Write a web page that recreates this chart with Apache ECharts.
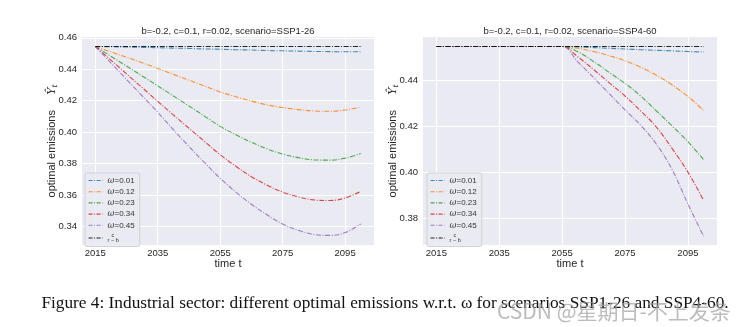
<!DOCTYPE html>
<html>
<head>
<meta charset="utf-8">
<script src="https://cdn.jsdelivr.net/npm/echarts@6/dist/echarts.min.js"></script>
<style>html,body{margin:0;padding:0;background:#fff;}#c{width:738px;height:327px;}</style>
</head>
<body>
<div id="c"></div>
<script>
// ---- data ----
const years = [2015,2020,2025,2030,2035,2040,2045,2050,2055,2060,2065,2070,2075,2080,2085,2090,2095,2100];
const seriesNames = ['ω=0.01','ω=0.12','ω=0.23','ω=0.34','ω=0.45','c/(r−b)'];
// SSP1-26 (left panel)
const w001_ssp126 = [.4545,.4543,.4541,.4539,.4537,.4534,.4532,.4529,.4527,.4524,.4522,.4519,.4517,.4515,.4513,.4512,.4511,.4511];
const w012_ssp126 = [.4545,.4510,.4476,.4441,.4405,.4367,.4330,.4293,.4255,.4225,.4197,.4173,.4156,.4143,.4134,.4132,.4140,.4158];
const w023_ssp126 = [.4545,.4482,.4420,.4357,.4294,.4230,.4166,.4101,.4036,.3983,.3935,.3893,.3860,.3837,.3823,.3821,.3834,.3863];
const w034_ssp126 = [.4545,.4458,.4370,.4283,.4195,.4109,.4024,.3940,.3856,.3782,.3716,.3662,.3618,.3587,.3568,.3564,.3580,.3623];
const w045_ssp126 = [.4545,.4440,.4335,.4231,.4126,.4015,.3908,.3805,.3706,.3618,.3540,.3473,.3414,.3374,.3348,.3342,.3360,.3415];
const bound_ssp126 = [.4545,.4545,.4545,.4545,.4545,.4545,.4545,.4545,.4545,.4545,.4545,.4545,.4545,.4545,.4545,.4545,.4545,.4545];
// SSP4-60 (right panel)
const w001_ssp460 = [.4545,.4545,.4545,.4545,.4545,.4545,.4545,.4545,.4545,.4543,.4540,.4537,.4534,.4531,.4528,.4526,.4523,.4521];
const w012_ssp460 = [.4545,.4545,.4545,.4545,.4545,.4545,.4545,.4545,.4545,.4537,.4523,.4505,.4483,.4455,.4420,.4378,.4328,.4267];
const w023_ssp460 = [.4545,.4545,.4545,.4545,.4545,.4545,.4545,.4545,.4545,.4522,.4480,.4432,.4385,.4330,.4265,.4200,.4132,.4054];
const w034_ssp460 = [.4545,.4545,.4545,.4545,.4545,.4545,.4545,.4545,.4545,.4500,.4445,.4387,.4330,.4265,.4195,.4102,.4000,.3877];
const w045_ssp460 = [.4545,.4545,.4545,.4545,.4545,.4545,.4545,.4545,.4545,.4478,.4410,.4340,.4270,.4203,.4121,.4010,.3862,.3722];
const bound_ssp460 = [.4545,.4545,.4545,.4545,.4545,.4545,.4545,.4545,.4545,.4545,.4545,.4545,.4545,.4545,.4545,.4545,.4545,.4545];
const xTicks = [2015,2035,2055,2075,2095];
const yTicksLeft = [0.34,0.36,0.38,0.40,0.42,0.44,0.46];
const yTicksRight = [0.38,0.40,0.42,0.44];
const titleLeft = 'b=-0.2, c=0.1, r=0.02, scenario=SSP1-26';
const titleRight = 'b=-0.2, c=0.1, r=0.02, scenario=SSP4-60';
const caption = 'Figure 4: Industrial sector: different optimal emissions w.r.t. ω for scenarios SSP1-26 and SSP4-60.';
const watermark = 'CSDN @星期日-不上发条';

// ---- styling ----
const colors = ['#1f77b4','#ff7f0e','#2ca02c','#d62728','#9467bd','#000000'];
const font = 'Liberation Sans, Arial, sans-serif';
const leftSets = [w001_ssp126,w012_ssp126,w023_ssp126,w034_ssp126,w045_ssp126,bound_ssp126];
const rightSets = [w001_ssp460,w012_ssp460,w023_ssp460,w034_ssp460,w045_ssp460,bound_ssp460];
const dash = [5, 1.6, 1, 1.6];

function mkSeries(sets, idx) {
  return sets.map((vals, i) => ({
    name: seriesNames[i], type: 'line', xAxisIndex: idx, yAxisIndex: idx,
    data: years.map((y, k) => [y, vals[k]]),
    symbol: 'none', showSymbol: false, smooth: 0.4, silent: true,
    lineStyle: {color: colors[i], width: 1.1, type: dash, opacity: 0.85},
    itemStyle: {color: colors[i]}, z: 2 + i
  }));
}
function mkX(idx) {
  return {
    gridIndex: idx, type: 'value', min: 2010.75, max: 2104.25,
    axisLine: {show: false}, axisTick: {show: false, customValues: xTicks},
    axisLabel: {customValues: xTicks, color: '#262626', fontSize: 9.5, fontFamily: font, margin: 3,
      formatter: v => String(Math.round(v))},
    splitLine: {show: true, lineStyle: {color: '#ffffff', width: 1}}
  };
}
function mkY(idx, mn, mx, ticks) {
  return {
    gridIndex: idx, type: 'value', min: mn, max: mx,
    axisLine: {show: false}, axisTick: {show: false, customValues: ticks},
    axisLabel: {customValues: ticks, color: '#262626', fontSize: 9.5, fontFamily: font, margin: 5,
      formatter: v => v.toFixed(2)},
    splitLine: {show: true, lineStyle: {color: '#ffffff', width: 1}}
  };
}
function mkLegend(left) {
  return {
    orient: 'vertical', left: left, top: 173, selectedMode: false,
    itemWidth: 14, itemHeight: 8, itemGap: 2.2, padding: [3, 5, 3, 3],
    backgroundColor: 'rgba(234,234,242,0.85)', borderColor: '#d0d0d8', borderWidth: 1, borderRadius: 2,
    itemStyle: {opacity: 0},
    lineStyle: {type: [4, 1.5, 1, 1.5], width: 1.1},
    textStyle: {fontSize: 8, lineHeight: 8, color: '#333', fontFamily: font,
      rich: {w: {fontSize: 8.5, lineHeight: 8, fontStyle: 'italic', fontFamily: 'DejaVu Serif'},
        t: {fontSize: 8, lineHeight: 8},
        n: {fontSize: 5.5, lineHeight: 5, padding: [0, 0, 0, 4]}, d: {fontSize: 5.5, lineHeight: 6}}},
    formatter: name => name === 'c/(r−b)' ? '{n|c}\n{d|r − b}' : '{w|ω}{t|' + name.slice(1) + '}',
    data: seriesNames
  };
}
function ylabel(x) {
  return {
    type: 'text', x: x, y: 141, rotation: Math.PI / 2,
    style: {text: '{a|optimal emissions}     {b|Ŷ}{c|t}', align: 'center', verticalAlign: 'middle',
      fill: '#262626', font: '11px ' + font,
      rich: {a: {fontSize: 11, fontFamily: font}, b: {fontSize: 11, fontStyle: 'italic', fontFamily: 'DejaVu Serif'},
        c: {fontSize: 7.5, fontStyle: 'italic', fontFamily: 'DejaVu Serif', padding: [6, 0, 0, 0]}}}
  };
}

const chart = echarts.init(document.getElementById('c'), null, {renderer: 'canvas'});
chart.setOption({
  animation: false,
  backgroundColor: '#ffffff',
  grid: [
    {left: 82, top: 37, width: 292, height: 208, show: true, backgroundColor: '#EAEAF2', borderWidth: 0},
    {left: 423, top: 37, width: 294, height: 208, show: true, backgroundColor: '#EAEAF2', borderWidth: 0}
  ],
  title: [
    {text: titleLeft, left: 228, top: 26, padding: 0, textAlign: 'center',
      textStyle: {fontSize: 9.5, fontWeight: 'normal', color: '#262626', fontFamily: font}},
    {text: titleRight, left: 570, top: 26, padding: 0, textAlign: 'center',
      textStyle: {fontSize: 9.5, fontWeight: 'normal', color: '#262626', fontFamily: font}}
  ],
  legend: [mkLegend(85), mkLegend(427)],
  xAxis: [mkX(0), mkX(1)],
  yAxis: [mkY(0, 0.3281, 0.4605, yTicksLeft), mkY(1, 0.3684, 0.4586, yTicksRight)],
  series: mkSeries(leftSets, 0).concat(mkSeries(rightSets, 1)),
  graphic: [
    ylabel(52), ylabel(393),
    {type: 'text', x: 228, y: 264, style: {text: 'time t', align: 'center', verticalAlign: 'middle', fill: '#262626', font: '11px ' + font}},
    {type: 'text', x: 570, y: 264, style: {text: 'time t', align: 'center', verticalAlign: 'middle', fill: '#262626', font: '11px ' + font}},
    {type: 'text', x: 385, y: 303, style: {text: caption, align: 'center', verticalAlign: 'middle', fill: '#111', font: '17.3px "Liberation Serif", "DejaVu Serif", serif'}},
    {type: 'text', x: 497, y: 311, z: 100, style: {text: watermark, align: 'left', verticalAlign: 'middle', fill: 'rgba(160,160,160,0.7)', font: '21px "Noto Sans CJK SC", sans-serif'}}
  ]
});
</script>
</body>
</html>
